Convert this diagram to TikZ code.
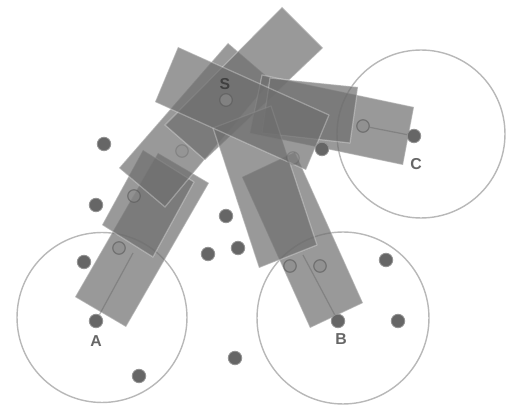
\documentclass[tikz,border=0pt]{standalone}
\usepackage{fontspec}
\setmainfont{Liberation Sans}
\usetikzlibrary{positioning}
\definecolor{barfill}{gray}{0.43}
\definecolor{dotfill}{gray}{0.40}
\definecolor{ringgray}{gray}{0.72}
\tikzset{
    rangecircle/.style={circle, draw=ringgray, line width=0.8pt, inner sep=0pt},
    bar/.style={fill=barfill, fill opacity=0.7, draw=white, draw opacity=0.3, line width=0.7pt, line join=round},
    sensor/.style={circle, fill=dotfill, draw=gray!85, line width=0.5pt, inner sep=0pt, minimum size=0.27cm},
    covered/.style={circle, fill=gray!90, draw=black!65, line width=0.7pt, inner sep=0pt, minimum size=0.25cm, opacity=0.6},
    midline/.style={draw=black!60, line width=0.7pt, opacity=0.45},
    tag/.style={font=\fontsize{9}{10}\selectfont\bfseries, text=black!60, inner sep=0pt}
}
\begin{document}
\begin{tikzpicture}[x=0.02cm, y=-0.02cm]
    \useasboundingbox (0,0) rectangle (508,405);

    % Range circles
    \node (rangeA) [rangecircle, minimum size=3.4cm] at (102,317.5) {};
    \node (rangeB) [rangecircle, minimum size=3.44cm] at (343,318) {};
    \node (rangeC) [rangecircle, minimum size=3.36cm] at (421,134) {};

    % Bars towards A
    \draw [bar] (75,297) -- (126,327) -- (209,183) -- (158,153) -- cycle;
    \draw [bar] (102,225) -- (153,257) -- (194,182) -- (143,150) -- cycle;
    \draw [bar] (119,168) -- (165,207) -- (271,80) -- (228,43) -- cycle;
    \draw [bar] (282,7) -- (323,48) -- (205,160) -- (165,125) -- cycle;

    % Bars towards C
    \draw [bar] (414,107) -- (403,165) -- (250,133) -- (262,75) -- cycle;
    \draw [bar] (358,87) -- (350,143) -- (262,133) -- (270,78) -- cycle;

    % Bars towards B
    \draw [bar] (310,328) -- (363,303) -- (295,152) -- (242,177) -- cycle;
    \draw [bar] (259,268) -- (317,245) -- (271,106) -- (213,128) -- cycle;

    % Bar round S
    \draw [bar] (178,47) -- (155,102) -- (306,170) -- (329,115) -- cycle;

    % Free sensors
    \node (n1) [sensor] at (104,144) {};
    \node (n2) [sensor] at (96,205) {};
    \node (n3) [sensor] at (84,262) {};
    \node (n4) [sensor] at (139,376) {};
    \node (n5) [sensor] at (226,216) {};
    \node (n6) [sensor] at (208,254) {};
    \node (n7) [sensor] at (238,248) {};
    \node (n8) [sensor] at (235,358) {};
    \node (n9) [sensor] at (386,260) {};
    \node (n10) [sensor] at (398,321) {};
    \node (n11) [sensor] at (322,149) {};

    % Sensors under the bars
    \node (m1) [covered] at (119,248) {};
    \node (m2) [covered] at (134,196) {};
    \node (m3) [covered, opacity=0.3] at (182,151) {};
    \node (m4) [covered, opacity=0.3] at (293,158) {};
    \node (m5) [covered] at (290,266) {};
    \node (m6) [covered] at (320,266) {};
    \node (m7) [covered] at (363,126) {};
    \node (nS) [covered] at (226,100) {};

    % End points
    \node (nA) [sensor] at (96,321) {};
    \node (nB) [sensor] at (338,321) {};
    \node (nC) [sensor] at (414,136) {};

    % Centre lines
    \coordinate (endA) at (133,253);
    \coordinate (endB) at (303,255);
    \draw [midline] (nA) -- (endA);
    \draw [midline] (nB) -- (endB);
    \draw [midline] (nC) -- (m7);

    % Labels
    \node (labS) [tag, text=black!75] at (225,84) {S};
    \node (labA) [tag, below=0.14cm of nA] {A};
    \node (labB) [tag] at (341,339) {B};
    \node (labC) [tag] at (416,164) {C};
\end{tikzpicture}
\end{document}
